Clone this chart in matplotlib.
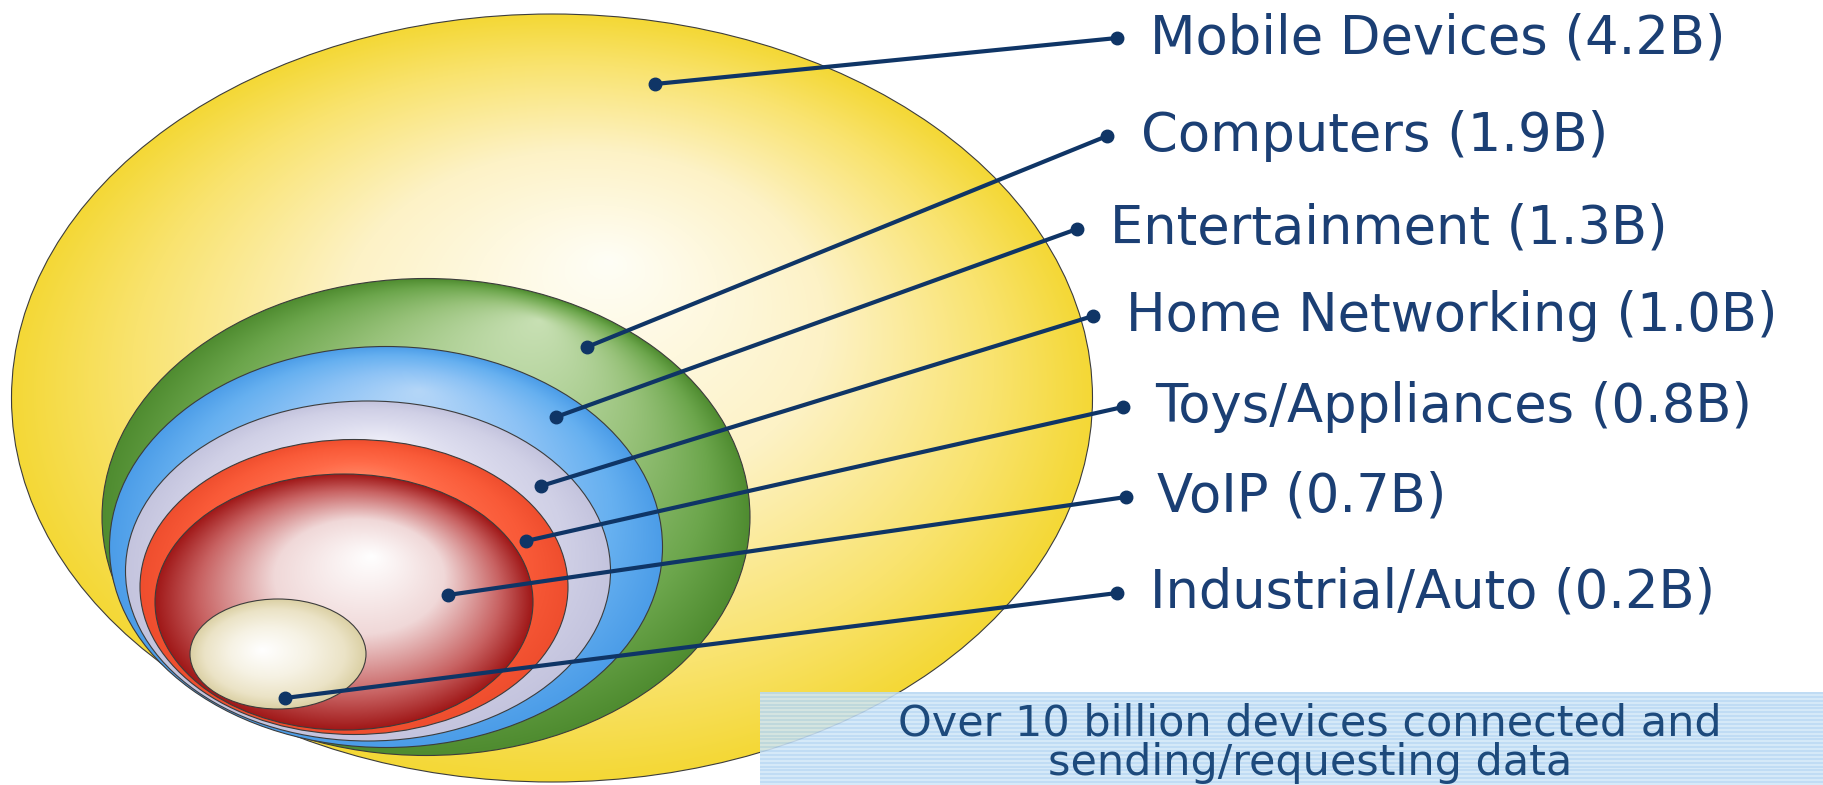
import numpy as np
import matplotlib
matplotlib.use('Agg')
import matplotlib.pyplot as plt
from matplotlib.patches import Ellipse
from matplotlib.colors import to_rgb

## Data: connected devices by category (billions)
categories = ['Mobile Devices', 'Computers', 'Entertainment', 'Home Networking',
              'Toys/Appliances', 'VoIP', 'Industrial/Auto']
devices_b = [4.2, 1.9, 1.3, 1.0, 0.8, 0.7, 0.2]
note_lines = ['Over 10 billion devices connected and', 'sending/requesting data']

## Layout (pixel space, y down) -- bubble (cx, cy, w, h), biggest first
bubbles = [(552, 398, 1081, 768), (426, 517, 648, 477), (386, 547, 553, 401),
           (368, 571, 485, 340), (354, 587, 428, 295), (344, 602, 378, 256),
           (278, 654, 176, 110)]
highlights = [(610, 260), (540, 320), (420, 390), (380, 440), (360, 480), (372, 556), (262, 650)]
shades = [
    ['#fffef6', '#fdf2c6', '#f9e36e', '#f4d836'],
    ['#c8e0b4', '#98c27a', '#6ca64c', '#4f8c30'],
    ['#b4d6f8', '#8cc2f5', '#66b0f0', '#4c9de8'],
    ['#eeeef8', '#dcdcee', '#d0d0e6', '#c4c4de'],
    ['#ff8a68', '#ff6a48', '#f95a38', '#ef4e2e'],
    ['#ffffff', '#f0d8d8', '#c86262', '#a01818'],
    ['#ffffff', '#f6f2e4', '#ebe3c6', '#dbd0a4'],
]
inner_pts = [(655, 84), (587, 347), (556, 417), (541, 486), (526, 541), (448, 595), (285, 698)]
outer_pts = [(1117, 38), (1107, 136), (1077, 229), (1093, 316), (1123, 407), (1126, 497), (1117, 593)]
label_x = [1150, 1141, 1110, 1126, 1155, 1157, 1150]

W, H = 1824, 785
navy = '#1b3f74'

fig = plt.figure(figsize=(W / 100, H / 100), dpi=100)
ax = fig.add_axes([0, 0, 1, 1])
ax.set_xlim(0, W)
ax.set_ylim(H, 0)
ax.axis('off')


def shaded_bubble(cx, cy, w, h, hl, cols, z):
    a, b = w / 2, h / 2
    x0, x1, y0, y1 = cx - a, cx + a, cy - b, cy + b
    xs = np.linspace(x0, x1, 400)
    ys = np.linspace(y0, y1, 300)
    X, Y = np.meshgrid(xs, ys)
    pu, pv = (X - cx) / a, (Y - cy) / b
    hu, hv = (hl[0] - cx) / a, (hl[1] - cy) / b
    du, dv = pu - hu, pv - hv
    dd = du ** 2 + dv ** 2 + 1e-12
    hd = hu * du + hv * dv
    hh = hu ** 2 + hv ** 2
    # fraction of the way from the highlight to the rim
    t = (-hd + np.sqrt(np.maximum(hd ** 2 - dd * (hh - 1), 0))) / dd
    s = np.clip(1 / t, 0, 1)
    stops = np.array([0, 0.45, 0.8, 1.0])
    rgb = np.array([to_rgb(c) for c in cols])
    img = np.dstack([np.interp(s, stops, rgb[:, k]) for k in range(3)])
    e = Ellipse((cx, cy), w, h, facecolor='none', edgecolor='#3c3c3c', lw=0.8, zorder=z + 0.5)
    ax.add_patch(e)
    im = ax.imshow(img, extent=(x0, x1, y1, y0), origin='upper', zorder=z,
                   interpolation='bilinear')
    im.set_clip_path(e)


for i, (cx, cy, w, h) in enumerate(bubbles):
    shaded_bubble(cx, cy, w, h, highlights[i], shades[i], z=1 + i)

# leader lines + labels
for i, name in enumerate(categories):
    (xa, ya), (xb, yb) = inner_pts[i], outer_pts[i]
    ax.plot([xa, xb], [ya, yb], color='#0f3566', lw=3.0, zorder=20, solid_capstyle='round')
    ax.plot([xa, xb], [ya, yb], 'o', color='#0f3566', ms=9, zorder=21)
    ax.text(label_x[i], yb, f'{name} ({devices_b[i]:.1f}B)', fontsize=38,
            family='DejaVu Sans', color=navy, va='center', ha='left', zorder=22)

# striped note box at bottom right
bx0, by0 = 760, 692
stripes = np.array([0, 1] * 24)
box_cols = np.array([to_rgb('#b8d8f3'), to_rgb('#d0e6f8')])
box_img = box_cols[stripes][:, None, :]
ax.imshow(box_img, extent=(bx0, W, H, by0), origin='upper', aspect='auto',
          interpolation='nearest', alpha=0.88, zorder=30)

ax.text(1310, 743, '\n'.join(note_lines), fontsize=31, family='DejaVu Sans',
        color='#1d4a7c', ha='center', va='center', linespacing=0.92, zorder=31)

ax.set_aspect('auto')
ax.set_xlim(0, W)
ax.set_ylim(H, 0)

fig.savefig('out.png', dpi=100)
plt.close('all')
